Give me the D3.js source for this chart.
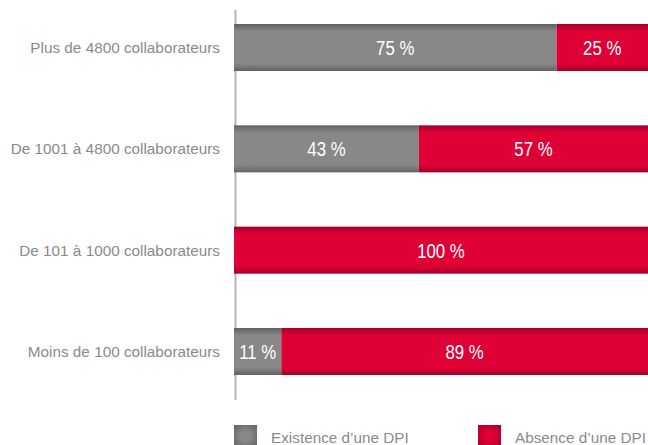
<!DOCTYPE html>
<html>
<head>
<meta charset="utf-8">
<script src="https://cdn.jsdelivr.net/npm/d3@7"></script>
<style>
  body { margin: 0; background: #fff; }
  svg { display: block; }
</style>
</head>
<body>
<div id="chart"></div>
<script>
// data
const categories = ["Plus de 4800 collaborateurs", "De 1001 à 4800 collaborateurs", "De 101 à 1000 collaborateurs", "Moins de 100 collaborateurs"];
const existence = [75, 43, 0, 11];
const absence = [25, 57, 100, 89];
const seriesNames = ["Existence d\u2019une DPI", "Absence d\u2019une DPI"];
const seriesColors = [{mid: "#888888", edge: "#626262"}, {mid: "#df0036", edge: "#a3002a"}];

const width = 648, height = 445;

const svg = d3.select("#chart").append("svg")
    .attr("width", width)
    .attr("height", height);

// shaded edges like the original bars
const defs = svg.append("defs");
seriesColors.forEach((c, k) => {
    const g = defs.append("linearGradient").attr("id", "g" + k)
        .attr("x1", 0).attr("y1", 0).attr("x2", 0).attr("y2", 1);
    g.append("stop").attr("offset", "0%").attr("stop-color", c.edge);
    g.append("stop").attr("offset", "16%").attr("stop-color", c.mid);
    g.append("stop").attr("offset", "84%").attr("stop-color", c.mid);
    g.append("stop").attr("offset", "100%").attr("stop-color", c.edge);
    const r = defs.append("radialGradient").attr("id", "r" + k)
        .attr("cx", "50%").attr("cy", "50%").attr("r", "70%");
    r.append("stop").attr("offset", "30%").attr("stop-color", c.mid);
    r.append("stop").attr("offset", "100%").attr("stop-color", c.edge);
});

const x = d3.scaleLinear().domain([0, 100]).range([234, 664]);
const y = d3.scaleBand().domain(categories).range([24, 375]).paddingInner(0.536).paddingOuter(0);

// axis line
svg.append("line")
    .attr("x1", 235.5).attr("x2", 235.5)
    .attr("y1", 10).attr("y2", 400)
    .attr("stroke", "#b5b5b5")
    .attr("stroke-width", 2);

const rows = categories.map((c, i) => ({cat: c, vals: [existence[i], absence[i]]}));

rows.forEach(r => {
    let acc = 0;
    r.vals.forEach((v, k) => {
        if (v <= 0) return;
        const x0 = x(acc), x1 = x(acc + v);
        acc += v;
        svg.append("rect")
            .attr("x", x0)
            .attr("y", y(r.cat))
            .attr("width", x1 - x0)
            .attr("height", y.bandwidth())
            .attr("fill", "url(#g" + k + ")");
        const cx = (x0 + Math.min(x1, width)) / 2;
        const cy = y(r.cat) + y.bandwidth() / 2;
        svg.append("text")
            .attr("transform", `translate(${cx},${cy}) scale(0.8,1)`)
            .attr("dy", "0.36em")
            .attr("text-anchor", "middle")
            .attr("fill", "#fff")
            .style("font-family", "'Liberation Sans', Arial, sans-serif")
            .style("font-size", "21px")
            .text(v + " %");
    });
});

// category labels
svg.selectAll(".cat")
    .data(categories)
    .enter().append("text")
    .attr("class", "cat")
    .attr("x", 220)
    .attr("y", d => y(d) + y.bandwidth() / 2)
    .attr("dy", "0.36em")
    .attr("text-anchor", "end")
    .attr("fill", "#8a8a8a")
    .style("font-family", "'Liberation Sans', Arial, sans-serif")
    .style("font-size", "15.3px")
    .text(d => d);

// legend
const legX = [234, 478];
seriesNames.forEach((s, k) => {
    svg.append("rect")
        .attr("x", legX[k]).attr("y", 425)
        .attr("width", 23).attr("height", 22)
        .attr("fill", "url(#r" + k + ")");
    svg.append("text")
        .attr("x", legX[k] + 37)
        .attr("y", 443)
        .attr("fill", "#8a8a8a")
        .style("font-family", "'Liberation Sans', Arial, sans-serif")
        .style("font-size", "15.3px")
        .text(s);
});
</script>
</body>
</html>
